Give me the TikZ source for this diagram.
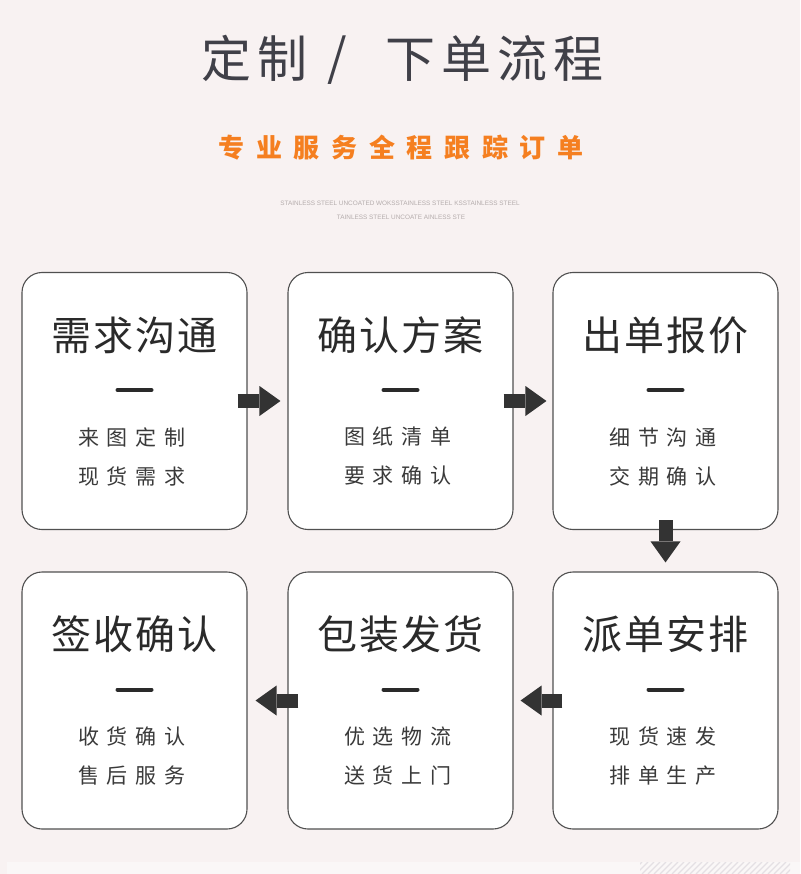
\documentclass[tikz,border=0pt]{standalone}
\usepackage{fontspec}
\setmainfont{Noto Sans CJK SC}
\newfontfamily\latinsmall{Liberation Sans}
\usetikzlibrary{arrows.meta}
\definecolor{bgc}{HTML}{F8F2F2}
\definecolor{bandc}{HTML}{FAF7F7}
\definecolor{hatchc}{HTML}{E4E0E4}
\definecolor{titlec}{HTML}{404048}
\definecolor{orangec}{HTML}{F57F20}
\definecolor{smallc}{HTML}{B4ACAC}
\definecolor{boxline}{HTML}{505050}
\definecolor{headc}{HTML}{2A2A2A}
\definecolor{linec}{HTML}{3A3A3A}
\definecolor{arrowc}{HTML}{333333}
\tikzset{
  card/.style={draw=boxline, line width=1.1pt, fill=white, rounded corners=20pt,
    minimum width=225pt, minimum height=257pt, inner sep=0pt},
  cardhead/.style={inner sep=0pt, text=headc, font=\fontsize{40}{40}\selectfont\addfontfeatures{LetterSpace=5}},
  cardline/.style={inner sep=0pt, text=linec, font=\fontsize{21}{21}\selectfont\addfontfeatures{LetterSpace=38}},
  carddash/.style={line width=4pt, draw=headc, line cap=round},
  blockarrow/.style={draw=arrowc, line width=14pt,
    -{Triangle[length=21pt,width=30pt,line width=0pt]}},
}
\newcommand{\stepcard}[6]{%
  \node[card] (#1) at (#2,#3) {};
  \node[cardhead] (#1h) at ([xshift=0pt,yshift=66pt]#1.center) {#4};
  \coordinate (#1da) at ([xshift=-17pt,yshift=11pt]#1.center);
  \coordinate (#1db) at ([xshift=17pt,yshift=11pt]#1.center);
  \draw[carddash] (#1da) -- (#1db);
  \node[cardline] (#1a) at ([xshift=-2.5pt,yshift=-36pt]#1.center) {#5};
  \node[cardline] (#1b) at ([xshift=-2.5pt,yshift=-75pt]#1.center) {#6};
}
\begin{document}
\begin{tikzpicture}[x=1pt,y=-1pt]
\fill[bgc] (0,0) rectangle (800,874);
\useasboundingbox (0,0) rectangle (800,874);
% bottom band with hatching
\fill[bandc] (7,862) rectangle (800,874);
\begin{scope}
\clip (640,862) rectangle (790,874);
\foreach \i in {0,...,28} {
  \draw[hatchc, line width=1.2pt] (630+\i*6,874) -- (642+\i*6,862);
}
\end{scope}
% titles
\node[inner sep=0pt, text=titlec, font=\fontsize{50}{50}\selectfont\addfontfeatures{LetterSpace=12}] (t1) at (254,58) {定制};
\node[inner sep=0pt, text=titlec, font=\fontsize{50}{50}\selectfont] (t2) at (337,60) {/};
\node[inner sep=0pt, text=titlec, font=\fontsize{50}{50}\selectfont\addfontfeatures{LetterSpace=12}] (t3) at (494,58) {下单流程};
\node[inner sep=0pt, text=orangec, font=\fontsize{26}{26}\selectfont\bfseries\addfontfeatures{LetterSpace=45}] (sub) at (401,148) {专业服务全程跟踪订单};
\node[inner sep=0pt, text=smallc, font=\latinsmall\fontsize{6.4}{6.4}\selectfont] (s1) at (400,203) {STAINLESS STEEL UNCOATED WOKSSTAINLESS STEEL KSSTAINLESS STEEL};
\node[inner sep=0pt, text=smallc, font=\latinsmall\fontsize{6.4}{6.4}\selectfont] (s2) at (401,217) {TAINLESS STEEL UNCOATE AINLESS STE};
% cards
\stepcard{b1}{134.5}{401}{需求沟通}{来图定制}{现货需求}
\stepcard{b2}{400.5}{401}{确认方案}{图纸清单}{要求确认}
\stepcard{b3}{665.5}{401}{出单报价}{细节沟通}{交期确认}
\stepcard{b4}{134.5}{700.5}{签收确认}{收货确认}{售后服务}
\stepcard{b5}{400.5}{700.5}{包装发货}{优选物流}{送货上门}
\stepcard{b6}{665.5}{700.5}{派单安排}{现货速发}{排单生产}
% arrows
\draw[blockarrow] ([xshift=-10pt]b1.east) -- ([xshift=-7pt]b2.west);
\draw[blockarrow] ([xshift=-10pt]b2.east) -- ([xshift=-6pt]b3.west);
\draw[blockarrow] ([yshift=10pt]b3.south) -- ([yshift=9pt]b6.north);
\draw[blockarrow] ([xshift=10pt]b6.west) -- ([xshift=7pt]b5.east);
\draw[blockarrow] ([xshift=11pt]b5.west) -- ([xshift=8pt]b4.east);
\end{tikzpicture}
\end{document}
